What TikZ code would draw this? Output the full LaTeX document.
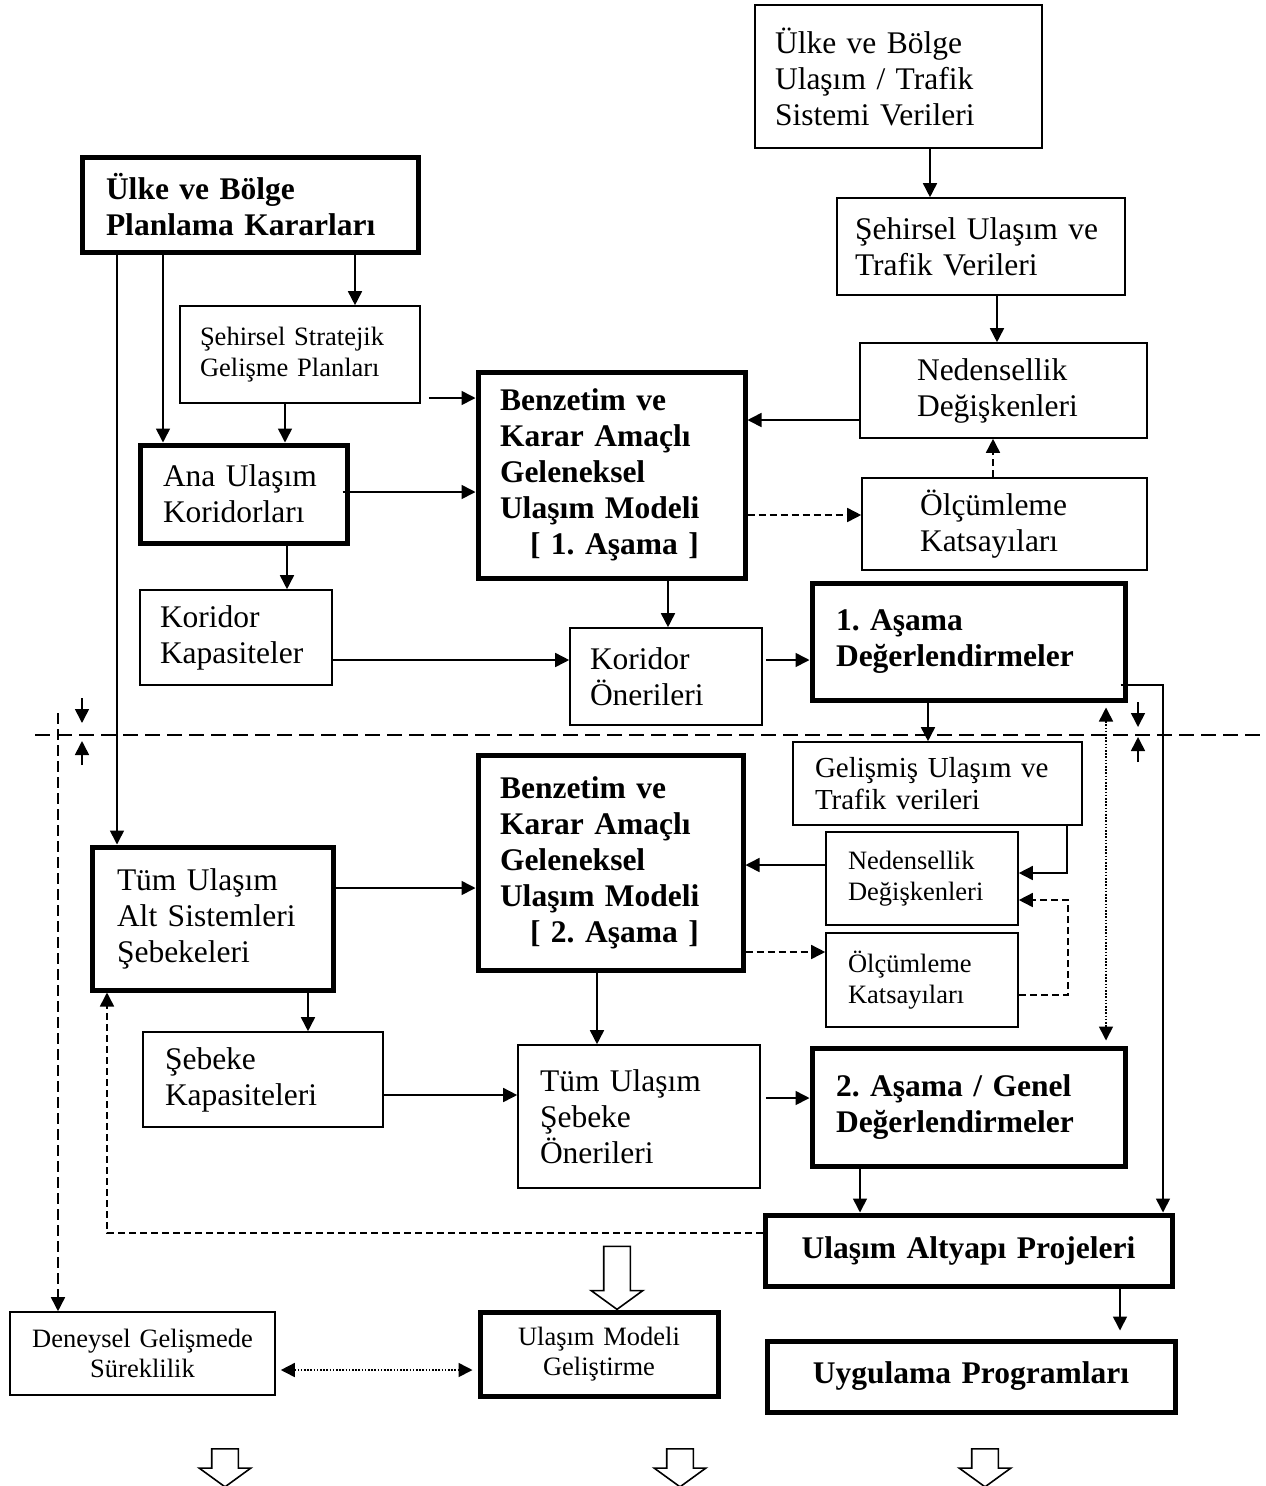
\documentclass[tikz,border=0pt]{standalone}
\usepackage{fontspec}
\setmainfont{Liberation Serif}
\usetikzlibrary{arrows.meta, shapes.arrows}
\hyphenpenalty=10000
\exhyphenpenalty=10000
\frenchspacing
\newcommand{\normf}{\fontsize{31.5}{36}\selectfont}
\newcommand{\midf}{\fontsize{29}{32}\selectfont}
\newcommand{\smallf}{\fontsize{26.5}{30.5}\selectfont}

\begin{document}
\begin{tikzpicture}[x=1pt, y=-1pt,
    box/.style={rectangle, draw=black, line width=1.6pt, inner sep=0pt, align=left, font=\normf},
    bbox/.style={box, line width=5pt},
    bold/.style={bbox, font=\normf\bfseries},
    sz/.style n args={3}{minimum width=#1pt, minimum height=#2pt, text width=#3pt},
    arr/.style={-{Triangle[length=14pt, width=14pt]}, line width=1.6pt},
    darr/.style={arr, dash pattern=on 7pt off 4pt},
    ldarr/.style={arr, dash pattern=on 11pt off 5pt},
    dotarr/.style={{Triangle[length=14pt, width=14pt]}-{Triangle[length=14pt, width=14pt]},
        line width=1.6pt, dash pattern=on 1.6pt off 1.6pt},
    sepline/.style={line width=1.8pt, dash pattern=on 15pt off 7pt},
    hollow/.style={single arrow, draw=black, line width=1.6pt, rotate=-90, inner sep=12.5pt,
        single arrow head extend=12.5pt, single arrow tip angle=108, minimum height=#1pt}
]
    \useasboundingbox (0,0) rectangle (1266,1486);

    % === stage 1 ===
    \node[box, sz={287}{143}{247}] (ulkeveri) at (898.5,76.5) {Ülke ve Bölge\\Ulaşım / Trafik\\Sistemi Verileri};
    \node[bold, sz={336}{95}{288}] (planlama) at (250,204.5) {Ülke ve Bölge\\Planlama Kararları};
    \node[box, sz={288}{97}{252}] (sehirveri) at (981,246.5) {Şehirsel Ulaşım ve\\Trafik Verileri};
    \node[box, font=\smallf, sz={240}{97}{200}] (strateji) at (300,354.5) {Şehirsel Stratejik\\Gelişme Planları};
    \node[box, sz={287}{95}{173}] (neden1) at (1003.5,390.5) {Nedensellik\\Değişkenleri};
    \node[bold, sz={267}{206}{223}] (model1) at (611.5,475) {Benzetim ve\\Karar Amaçlı\\Geleneksel\\Ulaşım Modeli\\\hspace*{30pt}[ 1. Aşama ]};
    \node[bbox, sz={207}{98}{161}] (anakor) at (243.5,494) {Ana Ulaşım\\Koridorları};
    \node[box, sz={285}{92}{169}] (olcum1) at (1004.5,524) {Ölçümleme\\Katsayıları};
    \node[box, sz={192}{95}{152}] (korkap) at (236,637.5) {Koridor\\Kapasiteler};
    \node[box, sz={192}{97}{152}] (koroner) at (666,676.5) {Koridor\\Önerileri};
    \node[bold, sz={313}{117}{265}] (asama1) at (968.5,641.5) {1. Aşama\\Değerlendirmeler};

    % === stage 2 ===
    \node[box, font=\midf, sz={289}{83}{245}] (gelismis) at (937.5,783.5) {Gelişmiş Ulaşım ve\\Trafik verileri};
    \node[bold, sz={265}{215}{221}] (model2) at (610.5,862.5) {Benzetim ve\\Karar Amaçlı\\Geleneksel\\Ulaşım Modeli\\\hspace*{30pt}[ 2. Aşama ]};
    \node[box, font=\smallf, sz={192}{93}{148}] (neden2) at (922,878.5) {Nedensellik\\Değişkenleri};
    \node[bbox, sz={241}{143}{191}] (tumalt) at (212.5,918.5) {Tüm Ulaşım\\Alt Sistemleri\\Şebekeleri};
    \node[box, font=\smallf, sz={192}{94}{148}] (olcum2) at (922,980) {Ölçümleme\\Katsayıları};
    \node[box, sz={240}{95}{196}] (sebkap) at (263,1079.5) {Şebeke\\Kapasiteleri};
    \node[box, sz={242}{143}{198}] (tumseb) at (639,1116.5) {Tüm Ulaşım\\Şebeke\\Önerileri};
    \node[bold, sz={313}{118}{265}] (asama2) at (968.5,1107) {2. Aşama / Genel\\Değerlendirmeler};

    % === outputs ===
    \node[bold, align=center, sz={407}{71}{380}] (altyapi) at (968.5,1250.5) {Ulaşım Altyapı Projeleri};
    \node[box, font=\smallf, align=center, sz={265}{83}{245}] (deneysel) at (142.5,1353.5) {Deneysel Gelişmede\\Süreklilik};
    \node[bbox, font=\smallf, align=center, sz={238}{84}{220}] (modelgel) at (599,1354) {Ulaşım Modeli\\Geliştirme};
    \node[bold, align=center, sz={408}{71}{380}] (uygulama) at (971,1376.5) {Uygulama Programları};

    % hollow arrows
    \node[hollow=63] (down0) at (617,1273) {};
    \node[hollow=38] (down1) at (225,1463) {};
    \node[hollow=38] (down2) at (680,1463) {};
    \node[hollow=38] (down3) at (985,1463) {};

    % --- stage separator ---
    \coordinate (sepL) at (35,735);
    \coordinate (sepR) at (1266,735);
    \coordinate (mL) at (82,735);
    \coordinate (mR) at (1138,735);
    \coordinate (dtop) at (58,713);
    \draw[sepline] (sepL) -- (sepR);
    \draw[arr] (mL) ++(0,-37) -- ++(0,25);
    \draw[arr] (mL) ++(0,30) -- ++(0,-24);
    \draw[arr] (mR) ++(0,-33) -- ++(0,25);
    \draw[arr] (mR) ++(0,27) -- ++(0,-25);

    % --- stage 1 arrows ---
    \draw[arr] ([xshift=31.5pt]ulkeveri.south) -- ([xshift=-51pt]sehirveri.north);
    \draw[arr] ([xshift=16pt]sehirveri.south) -- ([xshift=-6.5pt]neden1.north);
    \draw[arr] ([yshift=-29.5pt]neden1.west) -- ([yshift=55pt]model1.east);
    \draw[darr] ([xshift=-11.5pt]olcum1.north) -- ([xshift=-10.5pt]neden1.south);
    \draw[darr] ([yshift=-40pt]model1.east) -- ([yshift=9pt]olcum1.west);
    \draw[arr] ([xshift=105pt]planlama.south) -- ([xshift=55pt]strateji.north);
    \draw[arr] ([xshift=-87pt]planlama.south) -- ([xshift=-80.5pt]anakor.north);
    \draw[arr] ([xshift=-133pt]planlama.south) -- ([xshift=-95.5pt]tumalt.north);
    \draw[arr] ([xshift=-15pt]strateji.south) -- ([xshift=41.5pt]anakor.north);
    \draw[arr] ([xshift=8pt,yshift=-43.5pt]strateji.east) -- ([yshift=77pt]model1.west);
    \draw[arr] ([xshift=-7pt,yshift=2pt]anakor.east) -- ([yshift=-17pt]model1.west);
    \draw[arr] ([xshift=43.5pt]anakor.south) -- ([xshift=51pt]korkap.north);
    \draw[arr] ([xshift=56.5pt]model1.south) -- ([xshift=2pt]koroner.north);
    \draw[arr] ([yshift=-22.5pt]korkap.east) -- ([yshift=16.5pt]koroner.west);
    \draw[arr] ([xshift=3pt,yshift=16.5pt]koroner.east) -- ([yshift=-18.5pt]asama1.west);
    \draw[arr] ([xshift=-40.5pt]asama1.south) -- ([xshift=-9.5pt]gelismis.north);
    \draw[arr] ([xshift=-7pt,yshift=-43.5pt]asama1.east) -| ([xshift=194.5pt]altyapi.north);

    % --- stage 2 arrows ---
    \draw[arr] ([xshift=129.5pt]gelismis.south) |- ([yshift=5.5pt]neden2.east);
    \draw[darr] ([yshift=-15pt]olcum2.east) -- ++(49,0) |- ([yshift=-21.5pt]neden2.east);
    \draw[arr] ([yshift=13.5pt]neden2.west) -- ([yshift=-2.5pt]model2.east);
    \draw[darr] ([yshift=-89.5pt]model2.east) -- ([yshift=28pt]olcum2.west);
    \draw[arr] ([yshift=30.5pt]tumalt.east) -- ([yshift=-25.5pt]model2.west);
    \draw[arr] ([xshift=95.5pt]tumalt.south) -- ([xshift=45pt]sebkap.north);
    \draw[arr] ([xshift=-13.5pt]model2.south) -- ([xshift=-42pt]tumseb.north);
    \draw[arr] ([yshift=-15.5pt]sebkap.east) -- ([yshift=21.5pt]tumseb.west);
    \draw[arr] ([xshift=5pt,yshift=18.5pt]tumseb.east) -- ([yshift=9pt]asama2.west);
    \draw[arr] ([xshift=-108.5pt]asama2.south) -- ([xshift=-108.5pt]altyapi.north);
    \draw[arr, shorten >=8pt] ([xshift=151.5pt]altyapi.south) -- ([xshift=149pt]uygulama.north);

    % --- feedback ---
    \draw[darr] ([yshift=17.5pt]altyapi.west) -| ([xshift=-105.5pt]tumalt.south);
    \draw[ldarr] (dtop) -- (dtop |- deneysel.north);
    \draw[dotarr, shorten <=5pt, shorten >=5pt] ([xshift=137.5pt]asama1.south) -- ([xshift=137.5pt]asama2.north);
    \draw[dotarr, shorten <=5pt, shorten >=5pt] ([yshift=-16.5pt]deneysel.east) -- ([yshift=-16pt]modelgel.west);
\end{tikzpicture}
\end{document}
